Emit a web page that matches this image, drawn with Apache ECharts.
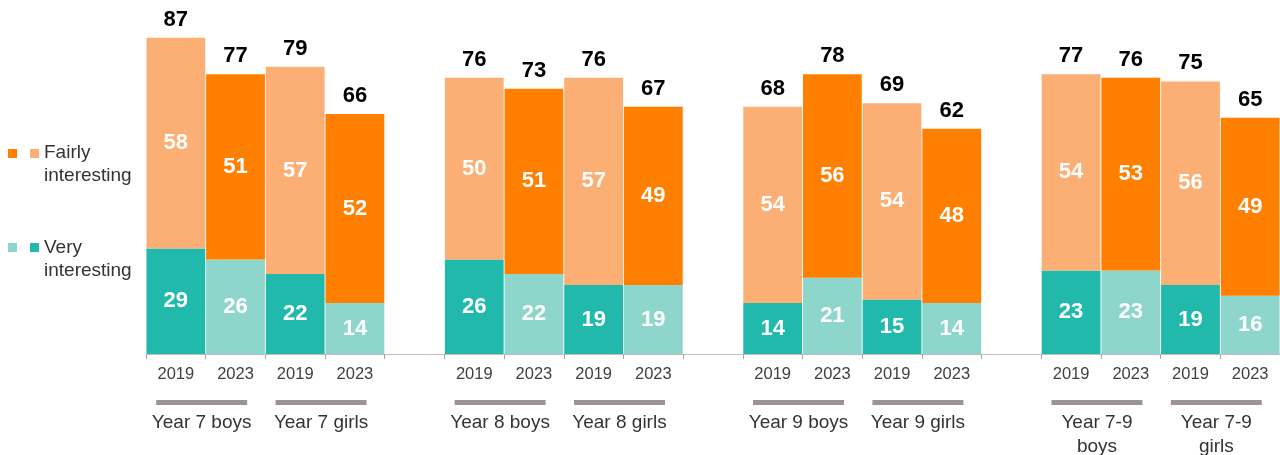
<!DOCTYPE html>
<html>
<head>
<meta charset="utf-8">
<script src="https://cdn.jsdelivr.net/npm/echarts@6/dist/echarts.min.js"></script>
<style>
html, body { margin: 0; padding: 0; background: #fff; }
#chart { width: 1280px; height: 455px; }
</style>
</head>
<body>
<div id="chart"></div>
<script>
// 19 slots: 4 bars per group, one empty slot between groups
let years = ['2019', '2023', '2019', '2023', '',
             '2019', '2023', '2019', '2023', '',
             '2019', '2023', '2019', '2023', '',
             '2019', '2023', '2019', '2023'];
let veryValues = [29, 26, 22, 14, '-', 26, 22, 19, 19, '-', 14, 21, 15, 14, '-', 23, 23, 19, 16];
let fairlyValues = [58, 51, 57, 52, '-', 50, 51, 57, 49, '-', 54, 56, 54, 48, '-', 54, 53, 56, 49];
let totals = [87, 77, 79, 66, '-', 76, 73, 76, 67, '-', 68, 78, 69, 62, '-', 77, 76, 75, 65];
let groupLabels = ['Year 7 boys', 'Year 7 girls', 'Year 8 boys', 'Year 8 girls',
                   'Year 9 boys', 'Year 9 girls', 'Year 7-9\nboys', 'Year 7-9\ngirls'];
let groupStart = [0, 2, 5, 7, 10, 12, 15, 17];

let darkOrange = '#FF7F00';
let lightOrange = '#FCAF74';
let darkTeal = '#20B9AC';
let lightTeal = '#8ED6CC';

let dom = document.getElementById('chart');
let myChart = echarts.init(dom);

function isFirstYear(i) {
    return years[i] === '2019';
}

let fairlyData = fairlyValues.map(function (v, i) {
    return {value: v, itemStyle: {color: isFirstYear(i) ? lightOrange : darkOrange}};
});
let veryData = veryValues.map(function (v, i) {
    return {value: v, itemStyle: {color: isFirstYear(i) ? darkTeal : lightTeal}};
});
let totalData = totals.map(function (v) {
    return v === '-' ? '-' : 0;
});

let valueLabel = {
    show: true,
    position: 'inside',
    color: '#fff',
    fontSize: 22,
    fontWeight: 'bold',
    fontFamily: 'Liberation Sans'
};

option = {
    animation: false,
    grid: {left: 146, right: 0, top: 0, bottom: 101},
    xAxis: {
        type: 'category',
        data: years,
        axisLine: {lineStyle: {color: '#BFBFBF', width: 1}},
        axisTick: {show: true, length: 5, lineStyle: {color: '#A6A6A6'}},
        axisLabel: {
            color: '#404040',
            fontSize: 16.5,
            fontFamily: 'Liberation Sans',
            margin: 12,
            interval: 0
        }
    },
    yAxis: {
        type: 'value',
        min: 0,
        max: 97.4,
        show: false,
        splitLine: {show: false}
    },
    graphic: [
        {type: 'rect', shape: {x: 8, y: 149, width: 9, height: 9}, style: {fill: darkOrange}},
        {type: 'rect', shape: {x: 30, y: 149, width: 9, height: 9}, style: {fill: lightOrange}},
        {type: 'text', x: 44, y: 141, style: {
            text: 'Fairly\ninteresting', fill: '#333',
            font: '19px Liberation Sans', lineHeight: 23, verticalAlign: 'top'
        }},
        {type: 'rect', shape: {x: 8, y: 243, width: 9, height: 9}, style: {fill: lightTeal}},
        {type: 'rect', shape: {x: 30, y: 243, width: 9, height: 9}, style: {fill: darkTeal}},
        {type: 'text', x: 44, y: 236, style: {
            text: 'Very\ninteresting', fill: '#333',
            font: '19px Liberation Sans', lineHeight: 23, verticalAlign: 'top'
        }}
    ],
    series: [
        {
            name: 'Very interesting',
            type: 'bar',
            stack: 'all',
            barCategoryGap: '1.5%',
            data: veryData,
            label: valueLabel
        },
        {
            name: 'Fairly interesting',
            type: 'bar',
            stack: 'all',
            barCategoryGap: '1.5%',
            data: fairlyData,
            label: valueLabel
        },
        {
            name: 'Total',
            type: 'bar',
            stack: 'all',
            barCategoryGap: '1.5%',
            data: totalData,
            itemStyle: {color: 'transparent'},
            label: {
                show: true,
                position: 'top',
                distance: 7,
                color: '#000',
                fontSize: 22,
                fontWeight: 'bold',
                fontFamily: 'Liberation Sans',
                formatter: function (p) {
                    return totals[p.dataIndex];
                }
            }
        },
        {
            name: 'Groups',
            type: 'custom',
            silent: true,
            clip: false,
            data: groupStart.map(function (s) { return [s, 0]; }),
            renderItem: function (params, api) {
                let s = api.value(0);
                let p1 = api.coord([s, 0]);
                let p2 = api.coord([s + 1, 0]);
                let cx = (p1[0] + p2[0]) / 2 - 4;
                let y0 = p1[1];
                return {
                    type: 'group',
                    children: [
                        {
                            type: 'rect',
                            shape: {x: cx - 45.5, y: y0 + 46, width: 91, height: 5},
                            style: {fill: '#9E9393'}
                        },
                        {
                            type: 'text',
                            x: cx,
                            y: y0 + 57,
                            style: {
                                text: groupLabels[params.dataIndex],
                                fill: '#333',
                                font: '19px Liberation Sans',
                                lineHeight: 24,
                                align: 'center',
                                verticalAlign: 'top'
                            }
                        }
                    ]
                };
            }
        }
    ]
};

if (option && typeof option === 'object') {
    myChart.setOption(option, true);
    window.addEventListener('resize', function () {
        myChart.resize();
    });
}
</script>
</body>
</html>
